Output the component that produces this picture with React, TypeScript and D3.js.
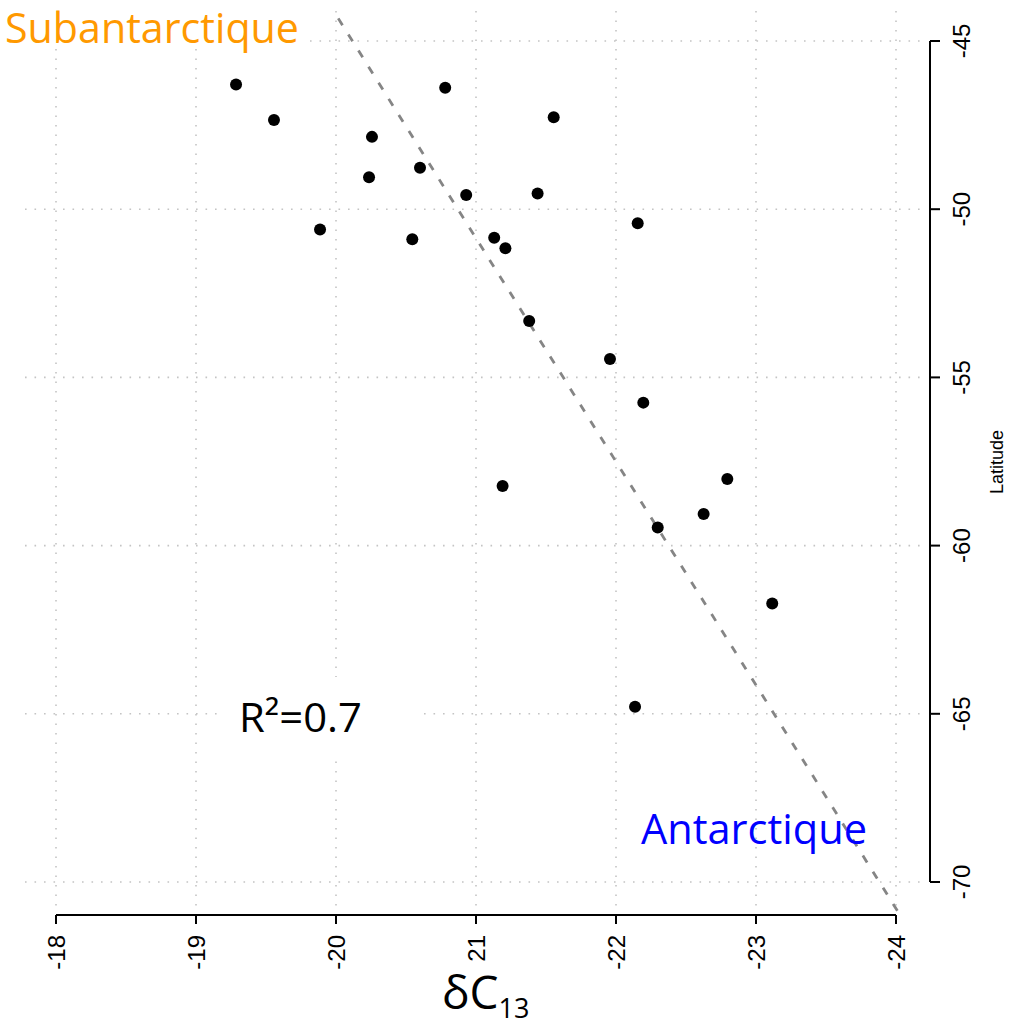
import React from "react";
import * as d3 from "d3";

// Data: δC13 (x) vs latitude (y)
const d13c = [
  -19.286, -19.557, -20.257, -20.236, -19.886, -20.78, -20.6, -20.93, -20.545,
  -21.13, -21.21, -21.44, -21.555, -22.155, -21.38, -21.957, -22.195, -21.19,
  -22.795, -22.626, -22.298, -23.116, -22.136,
];
const latitude = [
  -46.29, -47.35, -47.85, -49.05, -50.6, -46.39, -48.77, -49.58, -50.89,
  -50.85, -51.16, -49.53, -47.27, -50.42, -53.32, -54.45, -55.75, -58.23,
  -58.02, -59.06, -59.46, -61.72, -64.79,
];
const xTicks = [-18, -19, -20, -21, -22, -23, -24];
const xTickLabels = ["-18", "-19", "-20", "21", "-22", "-23", "-24"];
const yTicks = [-45, -50, -55, -60, -65, -70];
const yTickLabels = ["-45", "-50", "-55", "-60", "-65", "-70"];
// regression line: lat = intercept + slope * d13c
const fitIntercept = 88.62;
const fitSlope = 6.642;
const fitRange = [-19.8, -24.3];

export default function App() {
  const W = 1019;
  const H = 1023;
  const x = d3.scaleLinear().domain([-18, -24]).range([56, 896]);
  const y = d3.scaleLinear().domain([-45, -70]).range([41, 882]);
  const axisY = 915;
  const axisX = 930;

  const fitLine = d3
    .line<number>()
    .x((v) => x(v))
    .y((v) => y(fitIntercept + fitSlope * v));

  const gridColor = "#c4c4c4";
  const labelFont = "'Liberation Sans', Arial, sans-serif";
  const annoFont = "'Open Sans', sans-serif";

  return (
    <svg
      width={W}
      height={H}
      style={{ position: "absolute", left: 0, top: 0, background: "#fff" }}
    >
      <defs>
        <clipPath id="plotClip">
          <rect x={22} y={13} width={903} height={899} />
        </clipPath>
      </defs>
      <rect x={0} y={0} width={W} height={H} fill="#fff" />
      {/* grid */}
      <g stroke={gridColor} strokeWidth={1.6} strokeDasharray="1.6 7.9">
        {xTicks.map((t) => (
          <line key={"gx" + t} x1={x(t)} x2={x(t)} y1={11} y2={907} />
        ))}
        {yTicks.map((t) => (
          <line key={"gy" + t} x1={25} x2={922} y1={y(t)} y2={y(t)} />
        ))}
      </g>
      {/* regression line */}
      <path
        d={fitLine(fitRange) || ""}
        clipPath="url(#plotClip)"
        fill="none"
        stroke="#858585"
        strokeWidth={2.8}
        strokeDasharray="8 11"
      />
      {/* points */}
      <g fill="#000">
        {d13c.map((v, i) => (
          <circle key={i} cx={x(v)} cy={y(latitude[i])} r={6} />
        ))}
      </g>
      {/* x axis */}
      <g stroke="#000" strokeWidth={2}>
        <line x1={x(-18)} x2={x(-24)} y1={axisY} y2={axisY} />
        {xTicks.map((t) => (
          <line key={"xt" + t} x1={x(t)} x2={x(t)} y1={axisY} y2={axisY + 9} />
        ))}
      </g>
      <g fontFamily={labelFont} fontSize={24} fill="#000">
        {xTicks.map((t, i) => (
          <text
            key={"xl" + t}
            transform={`translate(${x(t) + 8.5},${935}) rotate(-90)`}
            textAnchor="end"
          >
            {xTickLabels[i]}
          </text>
        ))}
      </g>
      {/* y axis */}
      <g stroke="#000" strokeWidth={2}>
        <line x1={axisX} x2={axisX} y1={y(-45)} y2={y(-70)} />
        {yTicks.map((t) => (
          <line key={"yt" + t} x1={axisX} x2={axisX + 10} y1={y(t)} y2={y(t)} />
        ))}
      </g>
      <g fontFamily={labelFont} fontSize={24} fill="#000">
        {yTicks.map((t, i) => (
          <text
            key={"yl" + t}
            transform={`translate(${970},${y(t)}) rotate(-90)`}
            textAnchor="middle"
          >
            {yTickLabels[i]}
          </text>
        ))}
      </g>
      <text
        transform={`translate(${1003},${462}) rotate(-90)`}
        textAnchor="middle"
        fontFamily={labelFont}
        fontSize={18}
        fill="#000"
      >
        Latitude
      </text>
      {/* annotation boxes */}
      <rect x={0} y={0} width={305} height={46} fill="#fff" />
      <rect x={217} y={677} width={204} height={77} fill="#fff" />
      <text
        x={5}
        y={43}
        fontFamily={annoFont}
        fontSize={42}
        fill="#FF9900"
        textLength={294}
        lengthAdjust="spacingAndGlyphs"
      >
        Subantarctique
      </text>
      <text
        x={239}
        y={732}
        fontFamily={annoFont}
        fontSize={41}
        fill="#000"
        textLength={123}
        lengthAdjust="spacingAndGlyphs"
      >
        R²=0.7
      </text>
      <text
        x={641}
        y={844}
        fontFamily={annoFont}
        fontSize={42}
        fill="#0000FF"
        textLength={226}
        lengthAdjust="spacingAndGlyphs"
      >
        Antarctique
      </text>
      <text x={442} y={1009} fontFamily={annoFont} fontSize={46} fill="#000">
        δC
        <tspan fontSize={27} dy={9}>
          13
        </tspan>
      </text>
    </svg>
  );
}
